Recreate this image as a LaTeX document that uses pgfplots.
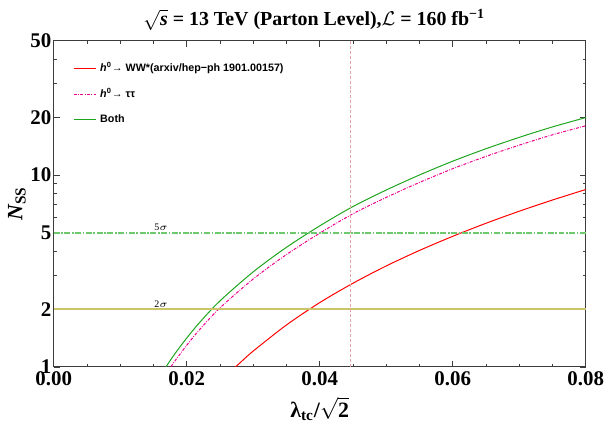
\documentclass[border=0pt]{standalone}
\usepackage{pgfplots}
\pgfplotsset{compat=1.18}
\usepackage{fontspec}
\setmainfont{Liberation Serif}
\setsansfont{Liberation Sans}
\definecolor{cgreen}{RGB}{30,165,30}
\definecolor{cfive}{RGB}{110,200,110}
\definecolor{ctwo}{RGB}{205,195,105}
\definecolor{cvert}{RGB}{225,165,165}
\definecolor{cframe}{RGB}{60,60,60}
\begin{document}
\begin{tikzpicture}
\begin{axis}[
  at={(0,0)}, anchor=south west,
  scale only axis, width=267.5pt, height=164pt,
  ymode=log, xmin=0, xmax=0.08, ymin=1, ymax=50,
  xtick={0,0.02,0.04,0.06,0.08},
  xticklabels={0.00,0.02,0.04,0.06,0.08},
  scaled x ticks=false,
  minor x tick num=3,
  ytick={1,2,5,10,20,50},
  yticklabels={1,2,5,10,20,50},
  minor ytick={3,4,6,7,8,9,30,40},
  tick align=inside,
  major tick length=3pt, minor tick length=1.6pt,
  axis line style={cframe, line width=0.5pt},
  tick style={cframe, line width=0.4pt},
  tick label style={font=\bfseries\fontsize{10.5}{12}\selectfont},
  yticklabel style={inner sep=1pt},
  xticklabel style={inner sep=2pt},
  legend style={at={(0.025,0.96)}, anchor=north west, draw=none, fill=none,
    font=\sffamily\bfseries\fontsize{5.4}{6.5}\selectfont, row sep=3pt},
  legend cell align=left,
  legend image code/.code={\draw[#1] (0pt,0pt) -- (11pt,0pt);},
]
\addplot[red, line width=0.5pt, smooth] coordinates {
(0.026,0.91) (0.028,1.05) (0.030,1.21) (0.035,1.655) (0.040,2.164) (0.045,2.73)
(0.050,3.359) (0.055,4.045) (0.060,4.793) (0.065,5.604) (0.070,6.475) (0.075,7.407) (0.080,8.40)};
\addlegendentry{{\itshape h}\textsuperscript{0}→ WW*(arxiv/hep−ph 1901.00157)}
\addplot[magenta, line width=0.5pt, smooth, dash pattern=on 1.5pt off 0.7pt on 0.4pt off 0.7pt] coordinates {
(0.016,0.825) (0.018,1.047) (0.020,1.297) (0.022,1.574) (0.025,2.031) (0.030,2.873) (0.035,3.851)
(0.040,4.976) (0.045,6.28) (0.050,7.645) (0.055,9.145) (0.060,10.78) (0.065,12.50) (0.070,14.30)
(0.075,16.19) (0.080,18.04)};
\addlegendentry{{\itshape h}\textsuperscript{0}→ ττ}
\addplot[cgreen, line width=0.5pt, smooth] coordinates {
(0.016,0.901) (0.018,1.143) (0.020,1.414) (0.022,1.714) (0.025,2.209) (0.030,3.13) (0.035,4.20)
(0.040,5.43) (0.045,6.85) (0.050,8.35) (0.055,10.0) (0.060,11.8) (0.065,13.7) (0.070,15.7)
(0.075,17.8) (0.080,19.9)};
\addlegendentry{Both}
\addplot[cfive, line width=1pt, dash pattern=on 3pt off 0.8pt on 0.8pt off 0.8pt, forget plot] coordinates {(0,5) (0.08,5)};
\addplot[ctwo, line width=1pt, forget plot] coordinates {(0,2) (0.08,2)};
\addplot[cvert, line width=0.5pt, dash pattern=on 1.5pt off 1pt, forget plot] coordinates {(0.0447,1) (0.0447,50)};
\node[anchor=south, inner sep=0.8pt, font=\tiny] at (axis cs:0.01615,5) {5$\sigma$};
\node[anchor=south, inner sep=0.8pt, font=\tiny] at (axis cs:0.01615,2) {2$\sigma$};
\end{axis}
\node[font=\bfseries\fontsize{10}{12}\selectfont, inner sep=1pt] at (131pt,174.5pt) {$\sqrt{\mbox{\bfseries\itshape s}}$ = 13 TeV (Parton Level),$\mathcal{L}$ = 160 fb\textsuperscript{−1}};
\node[font=\bfseries\fontsize{11}{13}\selectfont, inner sep=1pt] at (133.75pt,-21pt) {λ\textsubscript{tc}/$\sqrt{\mbox{\bfseries 2}}$};
\node[font=\bfseries\fontsize{11}{13}\selectfont, rotate=90] at (-18.5pt,82pt) {{\itshape N}\textsubscript{SS}};
\path (-27pt,-27.5pt) rectangle (277pt,184.5pt);
\end{tikzpicture}
\end{document}
